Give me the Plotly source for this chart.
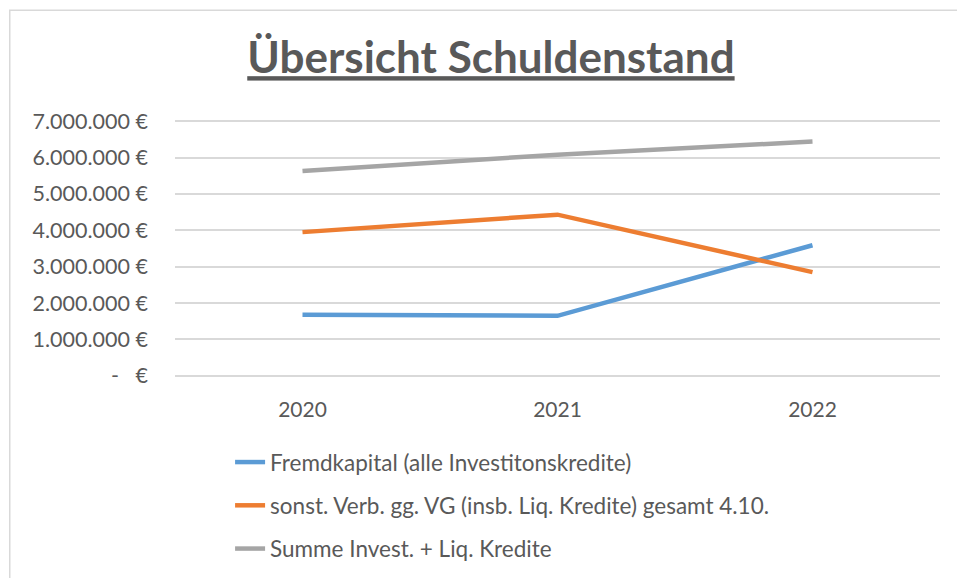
import plotly.graph_objects as go

years = ["2020", "2021", "2022"]
fremdkapital = [1680000, 1650000, 3590000]
sonst_verb = [3950000, 4430000, 2850000]
summe = [5630000, 6080000, 6440000]
series_names = [
    "Fremdkapital (alle Investitonskredite)",
    "sonst. Verb. gg. VG (insb. Liq. Kredite) gesamt 4.10.",
    "Summe Invest. + Liq. Kredite",
]
series_colors = ["#5B9BD5", "#ED7D31", "#A5A5A5"]
y_tick_vals = [0, 1000000, 2000000, 3000000, 4000000, 5000000, 6000000, 7000000]
y_tick_text = ["-   €", "1.000.000 €", "2.000.000 €", "3.000.000 €", "4.000.000 €",
               "5.000.000 €", "6.000.000 €", "7.000.000 €"]
title_text = "Übersicht Schuldenstand"

FONT = "Lato, Carlito, 'Open Sans', sans-serif"
TXT = "#595959"

fig = go.Figure()
for i, (name, vals, col) in enumerate(zip(series_names, [fremdkapital, sonst_verb, summe], series_colors)):
    fig.add_trace(go.Scatter(
        x=years, y=vals, name=name, mode="lines",
        line=dict(color=col, width=4.5),
        legendgroup=f"g{i}",
    ))

fig.update_layout(
    width=957, height=578,
    paper_bgcolor="white", plot_bgcolor="white",
    margin=dict(l=175, r=17, t=118.5, b=200, autoexpand=False),
    title=dict(
        text=f"<b>{title_text}</b>",
        font=dict(family=FONT, size=44, color=TXT, lineposition="under"),
        x=0.513, xanchor="center", xref="container",
        y=0.9, yanchor="middle", yref="container",
    ),
    xaxis=dict(
        type="category", range=[-0.5, 2.5],
        showgrid=False, zeroline=False, showline=False, ticks="",
        ticklabelstandoff=17,
        tickfont=dict(family=FONT, size=21, color=TXT),
    ),
    yaxis=dict(
        range=[-60000, 7060000], tickvals=y_tick_vals, ticktext=y_tick_text,
        showgrid=True, gridcolor="#D9D9D9", gridwidth=1.5,
        zeroline=False, showline=False, ticks="",
        ticklabelstandoff=26,
        tickfont=dict(family=FONT, size=21.5, color=TXT),
    ),
    legend=dict(
        orientation="v", x=0.072, xanchor="left", y=-0.243, yanchor="top",
        font=dict(family=FONT, size=22.5, color=TXT),
        tracegroupgap=11, bgcolor="rgba(0,0,0,0)",
    ),
    showlegend=True,
    shapes=[
        dict(type="rect", xref="paper", yref="paper",
             x0=-0.216, x1=1.05, y0=-0.9, y1=1.42,
             line=dict(color="#D9D9D9", width=1.5), fillcolor="rgba(0,0,0,0)",
             layer="below"),
    ],
)

fig.write_html("out.html", config={"displayModeBar": False},
               post_script="document.body.style.margin='0';")
